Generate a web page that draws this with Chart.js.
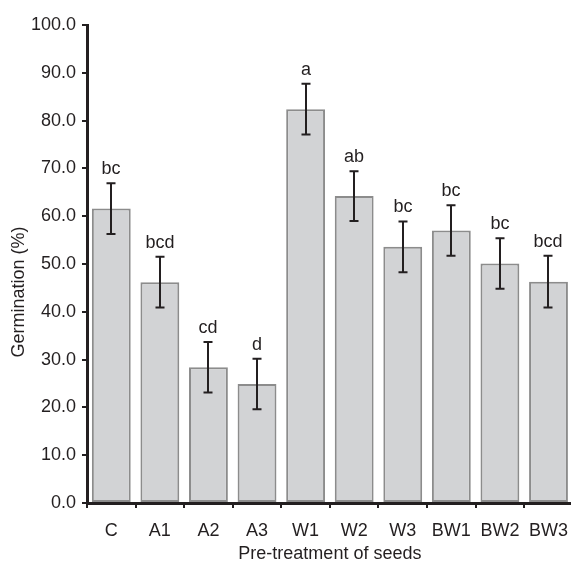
<!DOCTYPE html>
<html>
<head>
<meta charset="utf-8">
<script src="https://cdn.jsdelivr.net/npm/chart.js@4"></script>
<style>
html,body{margin:0;padding:0;background:#fff;overflow:hidden;}
#wrap{position:relative;width:580px;height:562px;}
</style>
</head>
<body>
<div id="wrap"><canvas id="c" width="580" height="562"></canvas></div>
<script>
const categories = ['C','A1','A2','A3','W1','W2','W3','BW1','BW2','BW3'];
const germination = [61.6, 46.2, 28.4, 24.9, 82.4, 64.2, 53.6, 57.0, 50.1, 46.3];
const errors = [5.3, 5.3, 5.3, 5.3, 5.3, 5.2, 5.3, 5.3, 5.3, 5.4];
const letters = ['bc','bcd','cd','d','a','ab','bc','bc','bc','bcd'];
const yTitle = 'Germination (%)';
const xTitle = 'Pre-treatment of seeds';

const INK = '#231f20';
const FONT = '"Liberation Sans", Arial, sans-serif';
const FS = 18;

const errorPlugin = {
  id: 'errorLetters',
  afterDatasetsDraw(chart) {
    const ctx = chart.ctx;
    const x = chart.scales.x, y = chart.scales.y;
    ctx.save();
    ctx.strokeStyle = INK;
    ctx.lineWidth = 2;
    ctx.fillStyle = INK;
    ctx.font = FS + 'px ' + FONT;
    ctx.textAlign = 'center';
    ctx.textBaseline = 'alphabetic';
    germination.forEach((v, i) => {
      const cx = Math.round(x.getPixelForValue(i));
      const top = y.getPixelForValue(v + errors[i]);
      const bot = y.getPixelForValue(v - errors[i]);
      ctx.beginPath();
      ctx.moveTo(cx, top); ctx.lineTo(cx, bot);
      ctx.moveTo(cx - 4.5, top); ctx.lineTo(cx + 4.5, top);
      ctx.moveTo(cx - 4.5, bot); ctx.lineTo(cx + 4.5, bot);
      ctx.stroke();
      ctx.fillText(letters[i], cx, top - 9);
    });
    // y-axis title
    ctx.save();
    ctx.translate(19, 292);
    ctx.rotate(-Math.PI / 2);
    ctx.textBaseline = 'middle';
    ctx.fillText(yTitle, 0, 0);
    ctx.restore();
    ctx.restore();
  }
};

new Chart(document.getElementById('c'), {
  type: 'bar',
  data: {
    labels: categories,
    datasets: [{
      data: germination,
      backgroundColor: '#d2d3d5',
      borderColor: '#8c8c8c',
      borderWidth: 2,
      borderSkipped: false,
      categoryPercentage: 1.0,
      barPercentage: 0.8
    }]
  },
  options: {
    responsive: false,
    animation: false,
    devicePixelRatio: 1,
    layout: { padding: { top: 25, right: 0, left: 0, bottom: -3 } },
    plugins: { legend: { display: false }, tooltip: { enabled: false } },
    scales: {
      y: {
        min: 0, max: 100,
        afterFit: (s) => { s.width = 87; },
        ticks: {
          stepSize: 10,
          color: INK,
          padding: 6,
          font: { size: FS, family: FONT },
          callback: (v) => Number(v).toFixed(1)
        },
        grid: { drawOnChartArea: false, drawTicks: true, tickLength: 5, color: INK, lineWidth: 2 },
        border: { display: true, color: INK, width: 3 }
      },
      x: {
        afterFit: (s) => { s.height = 62; },
        ticks: { color: INK, padding: 12, font: { size: FS, family: FONT } },
        grid: { drawOnChartArea: false, drawTicks: true, tickLength: 5, color: INK, lineWidth: 2, offset: true },
        border: { display: true, color: INK, width: 3 },
        title: { display: true, text: xTitle, color: INK, font: { size: FS, family: FONT }, padding: { top: 0, bottom: 0 } }
      }
    }
  },
  plugins: [errorPlugin]
});
</script>
</body>
</html>
